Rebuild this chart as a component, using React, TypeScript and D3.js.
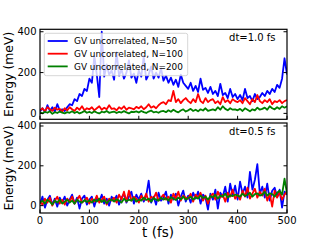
import React, { useEffect, useRef } from 'react'
import * as d3 from 'd3'

// sampling times (fs)
const times = [
  0, 5, 10, 15, 20, 25, 30, 35, 40, 45, 50, 55, 60, 65, 70, 75, 80, 85, 90, 95,
  100, 105, 110, 115, 120, 125, 130, 135, 140, 145, 150, 155, 160, 165, 170, 175, 180, 185, 190, 195,
  200, 205, 210, 215, 220, 225, 230, 235, 240, 245, 250, 255, 260, 265, 270, 275, 280, 285, 290, 295,
  300, 305, 310, 315, 320, 325, 330, 335, 340, 345, 350, 355, 360, 365, 370, 375, 380, 385, 390, 395,
  400, 405, 410, 415, 420, 425, 430, 435, 440, 445, 450, 455, 460, 465, 470, 475, 480, 485, 490, 495,
  500
]

// dt=1.0 fs panel
const topN50 = [
  10, 25, 5, 40, 12, 30, 8, 45, 15, 20,
  12, 30, 45, 40, 70, 60, 95, 85, 120, 110,
  170, 150, 280, 190, 80, 400, 180, 240, 190, 210,
  165, 300, 185, 215, 170, 200, 260, 175, 195, 150,
  210, 180, 280, 165, 190, 230, 170, 200, 175, 220,
  160, 185, 150, 175, 140, 165, 130, 190, 150, 135,
  120, 150, 110, 135, 105, 170, 115, 125, 100, 130,
  95, 110, 85, 145, 90, 100, 75, 120, 80, 95,
  70, 90, 65, 120, 75, 85, 60, 95, 70, 80,
  100, 85, 110, 95, 120, 105, 140, 125, 170, 270,
  190
]
const topN100 = [
  15, 25, 10, 30, 20, 12, 28, 18, 22, 10,
  25, 15, 30, 20, 12, 28, 18, 35, 15, 25,
  20, 30, 15, 25, 35, 18, 28, 20, 40, 22,
  25, 15, 30, 22, 35, 18, 28, 25, 20, 32,
  25, 35, 20, 30, 45, 28, 35, 25, 40, 50,
  55, 45, 65, 60, 110, 55, 70, 50, 65, 75,
  60, 50, 70, 55, 95, 60, 50, 75, 55, 65,
  70, 50, 60, 45, 80, 55, 65, 50, 70, 60,
  55, 65, 50, 75, 60, 45, 70, 55, 90, 60,
  50, 65, 55, 70, 45, 60, 55, 65, 50, 60,
  65
]
const topN200 = [
  5, 0, 8, 3, 10, -2, 6, 2, 9, 4,
  0, 6, 3, 10, 2, 8, 0, 5, 12, 3,
  7, 2, 10, 4, 0, 8, 5, 12, 3, 6,
  9, 2, 7, 4, 11, 5, 0, 8, 6, 10,
  4, 12, 6, 2, 9, 14, 5, 8, 3, 10,
  12, 6, 15, 8, 18, 10, 5, 14, 20, 9,
  15, 22, 12, 18, 10, 20, 14, 25, 12, 16,
  20, 15, 30, 18, 35, 22, 15, 25, 18, 20,
  15, 22, 12, 25, 18, 10, 20, 15, 28, 18,
  22, 28, 18, 35, 25, 20, 30, 22, 35, 28,
  35
]

// dt=0.5 fs panel
const botN50 = [
  10, 45, -10, 30, 50, 5, 35, -5, 40, 15,
  45, 0, 30, 55, 10, 40, -15, 35, 50, 5,
  30, 45, -5, 40, 20, 55, 10, 35, 0, 45,
  25, 50, 5, 40, 60, 15, 45, 70, 10, 55,
  30, 60, 20, 50, 125, 15, 45, 5, 65, 25,
  40, 70, 10, 55, 30, 60, 0, 45, 75, 20,
  50, 15, 65, 35, 70, 10, 55, 40, -20, 60,
  30, 80, -15, 65, 45, 95, 20, 110, 50, 100,
  30, 120, 60, 95, 40, 170, 80, 130, 208, 60,
  95, 40, 110, 25, 75, 90, 45, 80, -10, 70,
  55
]
const botN100 = [
  20, 5, 35, 15, 40, 0, 25, 45, 10, 30,
  5, 35, 20, 45, 10, 30, 50, 15, 25, 40,
  10, 35, 20, 50, 15, 30, 45, 5, 35, 25,
  40, 15, 55, 30, 70, 20, 75, 25, 45, 35,
  15, 50, 30, 60, 20, 45, 35, 65, 25, 40,
  55, 30, 45, 15, 60, 35, 70, 25, 50, 40,
  35, 60, 20, 55, 40, 65, 25, 50, 10, 45,
  60, 30, 70, 40, 55, 20, 65, 45, 80, 35,
  55, 30, 75, 45, 90, 35, 60, 85, 40, 70,
  50, 85, 25, 60, -5, 75, 40, 65, 30, 55,
  70
]
const botN200 = [
  15, 25, 10, 30, 20, 5, 25, 15, 30, 10,
  20, 30, 15, 25, 10, 30, 20, 15, 28, 18,
  25, 15, 30, 20, 35, 18, 28, 12, 25, 30,
  20, 32, 25, 15, 35, 22, 30, 25, 38, 20,
  30, 25, 40, 28, 35, 20, 38, 30, 25, 40,
  30, 38, 25, 42, 35, 28, 40, 32, 45, 30,
  38, 45, 30, 42, 35, 50, 38, 45, 30, 48,
  42, 55, 35, 50, 45, 60, 40, 52, 48, 55,
  50, 45, 60, 48, 55, 65, 45, 58, 62, 50,
  55, 70, 50, 62, 58, 45, 65, 75, 55, 135,
  60
]

const xTicks = [0, 100, 200, 300, 400, 500]
const yTicks = [0, 200, 400]
const legendLabels = ['GV uncorrelated, N=50', 'GV uncorrelated, N=100', 'GV uncorrelated, N=200']
const colors = ['#0000ff', '#ff0000', '#008000']
const notes = ['dt=1.0 fs', 'dt=0.5 fs']

export default function App () {
  const ref = useRef<SVGSVGElement>(null)

  useEffect(() => {
    const svg = d3.select(ref.current)
    svg.selectAll('*').remove()
    const font = 'DejaVu Sans'

    const x = d3.scaleLinear().domain([0, 500]).range([40, 287])

    const panels = [
      { series: [topN50, topN100, topN200], y: d3.scaleLinear().domain([-29, 412]).range([119.3, 29.3]), xLabels: false },
      { series: [botN50, botN100, botN200], y: d3.scaleLinear().domain([-37, 415]).range([213, 123]), xLabels: true }
    ]

    panels.forEach((p, pi) => {
      const [yb, yt] = p.y.range()
      const [xl, xr] = x.range()
      const g = svg.append('g')

      g.append('clipPath').attr('id', 'clip' + pi)
        .append('rect')
        .attr('x', xl).attr('y', yt)
        .attr('width', xr - xl).attr('height', yb - yt)

      const line = d3.line<number>()
        .x((d, i) => x(times[i]))
        .y(d => p.y(d))

      p.series.forEach((s, si) => {
        g.append('path')
          .datum(s)
          .attr('clip-path', 'url(#clip' + pi + ')')
          .attr('fill', 'none')
          .attr('stroke', colors[si])
          .attr('stroke-width', 1.8)
          .attr('stroke-linejoin', 'round')
          .attr('d', line)
      })

      // ticks pointing in, left/right/bottom
      yTicks.forEach(t => {
        const yy = p.y(t)
        g.append('line').attr('x1', xl).attr('x2', xl + 3.5).attr('y1', yy).attr('y2', yy).attr('stroke', '#000')
        g.append('line').attr('x1', xr).attr('x2', xr - 3.5).attr('y1', yy).attr('y2', yy).attr('stroke', '#000')
        g.append('text')
          .attr('x', xl - 3.5).attr('y', yy).attr('dy', '0.35em')
          .attr('text-anchor', 'end')
          .attr('font-family', font).attr('font-size', 10)
          .text(t)
      })
      xTicks.forEach(t => {
        const xx = x(t)
        g.append('line').attr('x1', xx).attr('x2', xx).attr('y1', yb).attr('y2', yb - 3.5).attr('stroke', '#000')
        if (p.xLabels) {
          g.append('text')
            .attr('x', xx).attr('y', yb + 11)
            .attr('text-anchor', 'middle')
            .attr('font-family', font).attr('font-size', 10)
            .text(t)
        }
      })

      g.append('rect')
        .attr('x', xl).attr('y', yt)
        .attr('width', xr - xl).attr('height', yb - yt)
        .attr('fill', 'none').attr('stroke', '#000').attr('stroke-width', 1.2)

      g.append('text')
        .attr('x', 275.5).attr('y', yt + 12)
        .attr('text-anchor', 'end')
        .attr('font-family', font).attr('font-size', 10)
        .text(notes[pi])

      g.append('text')
        .attr('transform', `translate(13,${(yt + yb) / 2}) rotate(-90)`)
        .attr('text-anchor', 'middle')
        .attr('font-family', font).attr('font-size', 12.4)
        .text('Energy (meV)')
    })

    // legend (top panel only)
    const lg = svg.append('g')
    lg.append('rect')
      .attr('x', 44.3).attr('y', 33.3).attr('width', 143.4).attr('height', 42.4)
      .attr('rx', 2).attr('fill', '#fff').attr('fill-opacity', 0.8)
      .attr('stroke', '#cccccc').attr('stroke-width', 0.8)
    legendLabels.forEach((l, i) => {
      const yy = 41 + i * 12.7
      lg.append('line').attr('x1', 47.7).attr('x2', 67.7).attr('y1', yy).attr('y2', yy)
        .attr('stroke', colors[i]).attr('stroke-width', 1.8)
      lg.append('text')
        .attr('x', 74).attr('y', yy).attr('dy', '0.35em')
        .attr('font-family', font).attr('font-size', 8.9)
        .text(l)
    })

    svg.append('text')
      .attr('x', 158).attr('y', 236.5)
      .attr('text-anchor', 'middle')
      .attr('font-family', font).attr('font-size', 13.5)
      .text('t (fs)')
  }, [])

  return (
    <svg ref={ref} width={320} height={240} style={{ position: 'absolute', left: 0, top: 0, background: '#fff' }} />
  )
}
